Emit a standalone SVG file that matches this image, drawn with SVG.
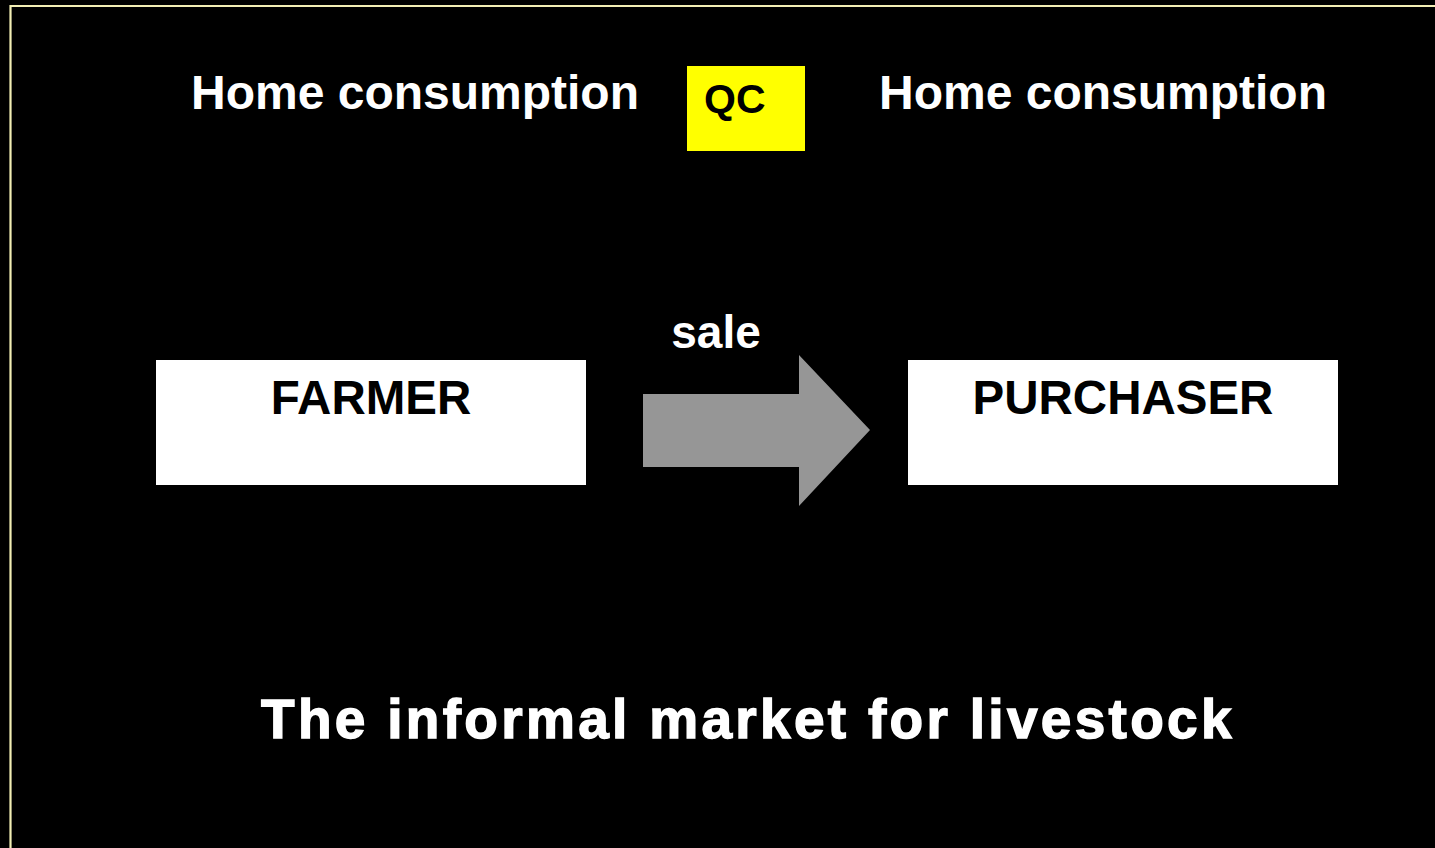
<svg xmlns="http://www.w3.org/2000/svg" width="1435" height="848" viewBox="0 0 1435 848">
  <style>
    .t { font-family: "Liberation Sans", Arial, sans-serif; font-weight: bold; }
    .white { fill: #ffffff; }
    .black { fill: #000000; }
    .box { fill: #ffffff; }
  </style>
  <!-- background and frame -->
  <rect x="0" y="0" width="1435" height="848" fill="#000000"/>
  <path d="M10.5 860 V6 H1445" fill="none" stroke="#f2eeb4" stroke-width="2.2"/>

  <g id="home-left">
    <text class="t white" x="191" y="109" font-size="48">Home consumption</text>
  </g>
  <g id="qc">
    <rect x="687" y="66" width="118" height="85" fill="#ffff00"/>
    <text class="t black" x="704" y="113" font-size="41">QC</text>
  </g>
  <g id="home-right">
    <text class="t white" x="879" y="109" font-size="48">Home consumption</text>
  </g>

  <g id="farmer">
    <rect class="box" x="156" y="360" width="430" height="125"/>
    <text class="t black" x="371" y="414" font-size="47.5" text-anchor="middle">FARMER</text>
  </g>
  <g id="purchaser">
    <rect class="box" x="908" y="360" width="430" height="125"/>
    <text class="t black" x="1123" y="414" font-size="47.5" text-anchor="middle">PURCHASER</text>
  </g>

  <g id="connectors">
    <polygon points="643,394 799,394 799,355 870,430 799,506 799,467 643,467" fill="#969696"/>
    <text class="t white" x="716" y="348" font-size="46" text-anchor="middle">sale</text>
  </g>

  <g id="title">
    <text class="t white" x="261" y="738" font-size="55" letter-spacing="3.3" stroke="#ffffff" stroke-width="1.4">The informal market for livestock</text>
  </g>
</svg>
